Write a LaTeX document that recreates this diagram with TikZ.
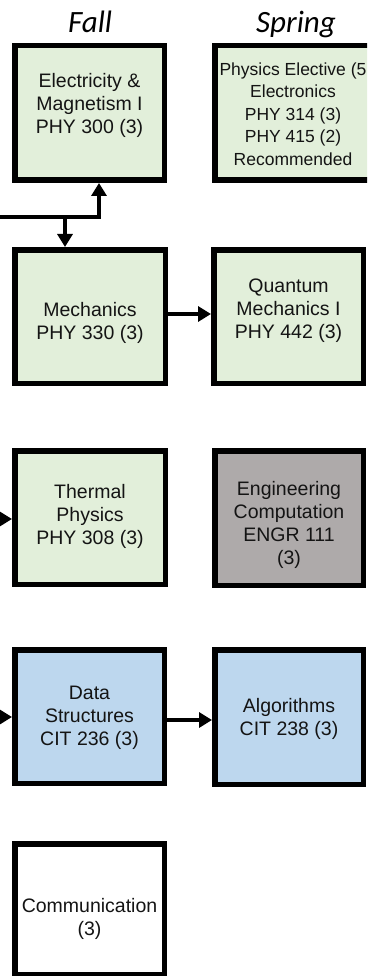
\documentclass[tikz,border=0pt]{standalone}
\usepackage{fontspec}
\setmainfont{Liberation Sans}
\newfontfamily\titlefont{Carlito}
\usetikzlibrary{arrows.meta,calc}
\definecolor{grn}{HTML}{E2EFDA}
\definecolor{blu}{HTML}{BDD7EE}
\definecolor{gry}{HTML}{AEAAAA}
\begin{document}
\begin{tikzpicture}[x=1pt,y=-1pt,
  box/.style={draw=black,line width=5.5pt,inner sep=0pt,rectangle},
  txt/.style={font=\fontsize{19.5}{23}\selectfont,align=center,inner sep=0pt,anchor=north,text=black!92},
  smalltxt/.style={font=\fontsize{17.5}{22.5}\selectfont,align=center,inner sep=0pt,anchor=north,text=black!92},
  ttl/.style={font=\titlefont\itshape\fontsize{31}{34}\selectfont,inner sep=0pt,anchor=base},
  conn/.style={line width=3.5pt},
  arr/.style={-{Triangle[length=13pt,width=15pt]}}]
\useasboundingbox (0,0) rectangle (367,976);
\clip (0,0) rectangle (367,976);
% titles
\node[ttl] (tfall) at (90,33) {Fall};
\node[ttl] (tspring) at (296,33) {Spring};
% boxes
\node[box,fill=grn,minimum width=149.5pt,minimum height=134.5pt] (em) at (89.5,113) {};
\node[box,fill=grn,minimum width=156.5pt,minimum height=134.5pt] (el) at (293,113) {};
\node[box,fill=grn,minimum width=150.5pt,minimum height=133.5pt] (mech) at (90,316.5) {};
\node[box,fill=grn,minimum width=149.5pt,minimum height=133.5pt] (qm) at (288.5,316.5) {};
\node[box,fill=grn,minimum width=150.5pt,minimum height=133.5pt] (th) at (90,517.5) {};
\node[box,fill=gry,minimum width=148.5pt,minimum height=134.5pt] (eng) at (289,518) {};
\node[box,fill=blu,minimum width=149.5pt,minimum height=133.5pt] (ds) at (89.5,716.5) {};
\node[box,fill=blu,minimum width=148.5pt,minimum height=134.5pt] (alg) at (289,717) {};
\node[box,fill=white,minimum width=149.5pt,minimum height=130.5pt] (comm) at (89.5,909) {};
% texts
\node[txt] (emt) at (89.5,73) {Electricity \&\\Magnetism I\\PHY 300 (3)};
\node[smalltxt] (elt) at (293,62.4) {Physics Elective (5\\Electronics\\PHY 314 (3)\\PHY 415 (2)\\Recommended};
\node[txt] (mecht) at (90,302) {Mechanics\\PHY 330 (3)};
\node[txt] (qmt) at (288.5,279) {Quantum\\Mechanics I\\PHY 442 (3)};
\node[txt] (tht) at (90,484) {Thermal\\Physics\\PHY 308 (3)};
\node[txt] (engt) at (289,481) {Engineering\\Computation\\ENGR 111\\(3)};
\node[txt] (dst) at (89.5,686) {Data\\Structures\\CIT 236 (3)};
\node[txt] (algt) at (289,698) {Algorithms\\CIT 238 (3)};
\node[txt] (commt) at (89.5,898) {Communication\\(3)};
% connectors
\coordinate (a0) at (-5,217);
\coordinate (a1) at (65,217);
\draw[conn,arr] (a0) -| ([xshift=9.5pt]em.south);
\draw[conn,arr] (a1) -- (a1 |- mech.north);
\draw[conn,arr] ([yshift=2.5pt]mech.east) -- ([yshift=2.5pt]mech.east -| qm.west);
\coordinate (b0) at (-5,519);
\draw[conn,arr] (b0) -- (b0 -| th.west);
\coordinate (c0) at (-5,717);
\draw[conn,arr] (c0) -- (c0 -| ds.west);
\draw[conn,arr] ([yshift=-3.5pt]ds.east) -- ([yshift=-3.5pt]ds.east -| alg.west);
\end{tikzpicture}
\end{document}
